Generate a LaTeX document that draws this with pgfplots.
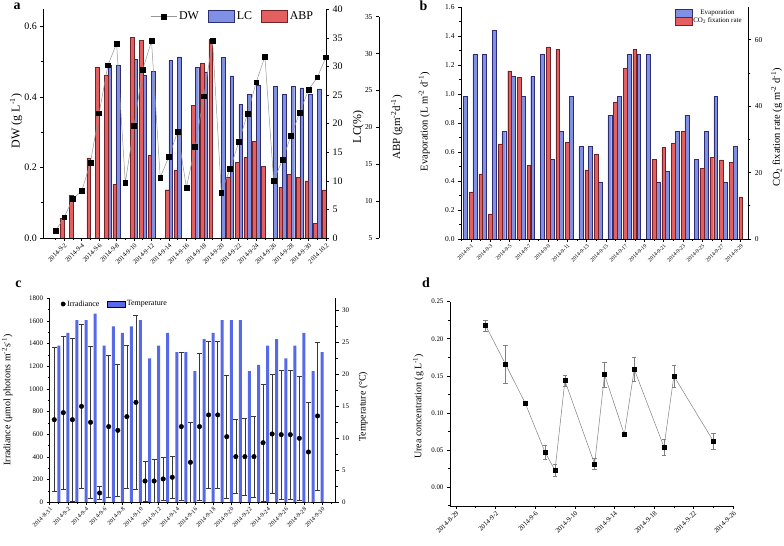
\documentclass[border=0pt]{standalone}
\usepackage{fontspec}
\setmainfont{Liberation Serif}
\usepackage{pgfplots}
\pgfplotsset{compat=1.18}

\definecolor{lcblue}{RGB}{128,144,228}
\definecolor{lcedge}{RGB}{45,45,115}
\definecolor{abpred}{RGB}{228,96,96}
\definecolor{abpedge}{RGB}{115,35,40}
\definecolor{tempblue}{RGB}{86,106,232}
\definecolor{errgray}{RGB}{55,55,55}
\definecolor{linegray}{RGB}{150,150,150}

\newcommand{\fs}[1]{\fontsize{#1}{#1}\selectfont}

\pgfplotsset{
  base/.style={
    scale only axis,
    anchor=south west,
    /pgf/number format/assume math mode=true,
    /pgf/number format/1000 sep={},
    scaled ticks=false,
    tick align=outside,
    axis line style={-, line width=0.7pt},
    every outer x axis line/.append style={-},
    every outer y axis line/.append style={-},
    major tick length=3bp,
    minor tick length=2bp,
    tick style={black, line width=0.6pt},
  },
  fix1/.style={/pgf/number format/.cd, fixed, fixed zerofill, precision=1},
  fix2/.style={/pgf/number format/.cd, fixed, fixed zerofill, precision=2},
  dwleg/.style={legend image code/.code={\draw[mark repeat=2,mark phase=2,##1] plot coordinates {(0bp,0bp) (13bp,0bp) (26bp,0bp)};}},
  boxlegA/.style={legend image code/.code={\draw[##1] (0bp,-6.2bp) rectangle (26bp,6.2bp);}},
  boxlegB/.style={legend image code/.code={\draw[##1] (0bp,-3.8bp) rectangle (16.7bp,3.8bp);}},
  boxlegC/.style={legend image code/.code={\draw[##1] (0bp,-3.1bp) rectangle (17.7bp,3.1bp);}},
  dotleg/.style={legend image code/.code={\fill[black] (2.5bp,0bp) circle (2.2bp);}},
}

\begin{document}
\begin{tikzpicture}
\path[use as bounding box] (0,0) rectangle (784bp,546bp);

% ================= Panel a =================
% LC bars (right axis)
\begin{axis}[base, at={(43.3bp,308bp)}, width=282.7bp, height=228.7bp,
  xmin=-0.4, xmax=32, ymin=0, ymax=40,
  axis x line=none, axis y line*=right,
  ytick={0,5,...,40},
  yticklabel style={font=\fs{10}},
]
\addplot[ybar, bar width=3.6bp, bar shift=1.8bp, fill=lcblue, draw=lcedge, line width=0.4pt] coordinates {
(7,30.28)(8,30.28)(10,31.27)(11,28.5)(12,29.2)(14,31.1)(15,31.7)(17,29.9)(18,29.05)(20,31.6)(21,28.35)(22,23.35)(23,25.1)(24,26.8)(26,26.55)(27,25.15)(28,26.55)(29,26.26)(30,25.15)(31,26.08)};
\end{axis}
% ABP bars (hidden axis, ABP scale)
\begin{axis}[base, at={(43.3bp,308bp)}, width=282.7bp, height=228.7bp,
  xmin=-0.4, xmax=32, ymin=5, ymax=36, hide axis]
\addplot[ybar, bar width=3.6bp, bar shift=-1.8bp, fill=abpred, draw=abpedge, line width=0.4pt] coordinates {
(2,7.70)(3,10.77)(5,15.87)(6,28.19)(7,27.10)(8,12.31)(10,32.19)(11,31.80)(12,16.16)(14,11.54)(15,14.20)(17,22.97)(18,28.63)(19,31.93)(21,13.29)(22,15.23)(23,15.92)(24,18.09)(25,14.68)(27,11.86)(28,13.66)(29,13.21)(30,12.75)(31,6.94)(32,11.51)};
\end{axis}
% ABP offset spine
\begin{axis}[base, at={(379bp,308bp)}, width=1bp, height=221.3bp,
  xmin=0, xmax=1, ymin=5, ymax=35,
  axis x line=none, axis y line*=left,
  ytick={5,10,...,35},
  yticklabel style={font=\fs{7.5}},
]
\end{axis}
% DW (left axis, x axis)
\begin{axis}[base, at={(43.3bp,308bp)}, width=282.7bp, height=228.7bp,
  xmin=-0.4, xmax=32, ymin=0, ymax=0.649,
  axis x line*=bottom, axis y line*=left,
  xtick={2,4,...,32}, minor xtick={1,3,...,31},
  xticklabels={2014-9-2,2014-9-4,2014-9-6,2014-9-8,2014-9-10,2014-9-12,2014-9-14,2014-9-16,2014-9-18,2014-9-20,2014-9-22,2014-9-24,2014-9-26,2014-9-28,2014-9-30,2014.10.2},
  xticklabel style={rotate=45, anchor=north east, font=\fs{6.5}, inner sep=1pt},
  ytick={0,0.2,0.4,0.6}, minor ytick={0.1,0.3,0.5},
  yticklabel style={font=\fs{10}, fix1},
  legend columns=3,
  legend style={at={(axis description cs:0.378,1.0)}, anchor=north west, draw=none, fill=none,
    font=\fs{12}, inner sep=0pt, nodes={inner sep=2.2bp},
    /tikz/every even column/.append style={column sep=7bp}},
]
\addlegendimage{dwleg, linegray, line width=0.5pt, mark=square*, mark size=2.4bp, mark options={black, fill=black}}
\addlegendentry{DW}
\addlegendimage{boxlegA, fill=lcblue, draw=lcedge, line width=0.4pt}
\addlegendentry{LC}
\addlegendimage{boxlegA, fill=abpred, draw=abpedge, line width=0.4pt}
\addlegendentry{ABP}
\addplot[linegray, line width=0.5pt, mark=square*, mark size=2.4bp, mark options={black, fill=black}, forget plot] coordinates {
(1,0.020)(2,0.059)(3,0.112)(4,0.133)(5,0.214)(6,0.354)(7,0.490)(8,0.552)(9,0.157)(10,0.318)(11,0.478)(12,0.559)(13,0.172)(14,0.231)(15,0.302)(16,0.143)(17,0.259)(18,0.402)(19,0.560)(20,0.129)(21,0.196)(22,0.272)(23,0.352)(24,0.442)(25,0.515)(26,0.163)(27,0.221)(28,0.291)(29,0.356)(30,0.421)(31,0.456)(32,0.513)};
\end{axis}

% ================= Panel b =================
\begin{axis}[base, at={(461bp,307bp)}, width=287.3bp, height=231.7bp,
  xmin=-0.04, xmax=29.78, ymin=0, ymax=1.6,
  axis x line*=bottom, axis y line*=left,
  xtick={1,3,...,29}, minor xtick={0,2,...,28},
  xticklabels={2014-9-1,2014-9-3,2014-9-5,2014-9-7,2014-9-9,2014-9-11,2014-9-13,2014-9-15,2014-9-17,2014-9-19,2014-9-21,2014-9-23,2014-9-25,2014-9-27,2014-9-29},
  xticklabel style={rotate=45, anchor=north east, font=\fs{5.5}, inner sep=1pt},
  ytick={0,0.2,0.4,0.6,0.8,1.0,1.2,1.4,1.6}, minor ytick={0.1,0.3,0.5,0.7,0.9,1.1,1.3,1.5},
  yticklabel style={font=\fs{7.5}, fix1},
]
\addplot[ybar, bar width=3.9bp, bar shift=0bp, fill=lcblue, draw=lcedge, line width=0.4pt] coordinates {
(0.4,0.983)(1.4,1.275)(2.4,1.275)(3.4,1.441)(4.4,0.741)(5.4,1.123)(6.4,0.983)(7.4,1.123)(8.4,1.275)(9.4,0.550)(10.4,0.741)(11.4,0.983)(12.4,0.642)(13.4,0.642)(14.4,0.394)(15.4,0.856)(16.4,0.983)(17.4,1.275)(18.4,1.275)(19.4,1.275)(20.4,0.394)(21.4,0.467)(22.4,0.741)(23.4,0.856)(24.4,0.550)(25.4,0.741)(26.4,0.983)(27.4,0.394)(28.4,0.642)};
\end{axis}
\begin{axis}[base, at={(461bp,307bp)}, width=287.3bp, height=231.7bp,
  xmin=-0.04, xmax=29.78, ymin=0, ymax=69.75,
  axis x line=none, axis y line*=right,
  ytick={0,20,40,60}, minor ytick={10,30,50},
  yticklabel style={font=\fs{7.5}},
  legend style={at={(axis description cs:0.745,0.993)}, anchor=north west, draw=none, fill=none,
    font=\fs{7}, inner sep=0pt, nodes={inner sep=1bp}, row sep=-0.5bp},
]
\addlegendimage{boxlegB, fill=lcblue, draw=lcedge, line width=0.4pt}
\addlegendentry{Evaporation}
\addlegendimage{boxlegB, fill=abpred, draw=abpedge, line width=0.4pt}
\addlegendentry{CO\textsubscript{2} fixation rate}
\addplot[ybar, bar width=3.7bp, bar shift=0bp, fill=abpred, draw=abpedge, line width=0.4pt, forget plot] coordinates {
(1,14.15)(2,19.57)(3,7.53)(4,28.6)(5,50.6)(6,48.7)(7,22.08)(9,57.8)(10,57.0)(11,29.1)(13,20.77)(14,25.6)(16,41.25)(17,51.4)(18,57.0)(20,24.0)(21,27.5)(22,28.7)(23,32.5)(25,21.3)(26,24.6)(27,23.8)(28,23.0)(29,12.65)};
\end{axis}

% ================= Panel c =================
\begin{axis}[base, at={(49.7bp,43.7bp)}, width=286bp, height=204bp,
  xmin=0, xmax=31.5, ymin=0, ymax=31.9,
  axis x line=none, axis y line*=right,
  ytick={0,5,...,30}, minor ytick={2.5,7.5,12.5,17.5,22.5,27.5},
  yticklabel style={font=\fs{7}},
]
\addplot[ybar, bar width=3bp, bar shift=0bp, fill=tempblue, draw=none] coordinates {
(1,24.5)(2,26.5)(3,28.5)(4,28.5)(5,29.5)(6,24.5)(7,27.5)(8,26.5)(9,27.5)(10,28.5)(11,22.5)(12,24.5)(13,26.5)(14,23.5)(15,23.5)(16,20.5)(17,25.5)(18,26.5)(19,28.5)(20,28.5)(21,28.5)(22,20.5)(23,21.5)(24,24.5)(25,25.5)(26,22.5)(27,24.5)(28,26.5)(29,20.5)(30,23.5)};
\end{axis}
\begin{axis}[base, at={(49.7bp,43.7bp)}, width=286bp, height=204bp,
  xmin=0, xmax=31.5, ymin=0, ymax=1800,
  axis x line*=bottom, axis y line*=left,
  xtick={0,2,...,30}, minor xtick={1,3,...,31},
  xticklabels={2014-8-31,2014-9-2,2014-9-4,2014-9-6,2014-9-8,2014-9-10,2014-9-12,2014-9-14,2014-9-16,2014-9-18,2014-9-20,2014-9-22,2014-9-24,2014-9-26,2014-9-28,2014-9-30},
  xticklabel style={rotate=45, anchor=north east, font=\fs{6}, inner sep=1pt},
  ytick={0,200,...,1800}, minor ytick={100,300,...,1700},
  yticklabel style={font=\fs{7}},
  legend columns=2,
  legend style={at={(axis description cs:0.038,0.998)}, anchor=north west, draw=none, fill=none,
    font=\fs{8}, inner sep=0pt, nodes={inner sep=1.6bp},
    /tikz/every even column/.append style={column sep=6bp}},
]
\addlegendimage{dotleg}
\addlegendentry{Irradiance}
\addlegendimage{boxlegC, fill=tempblue, draw=none}
\addlegendentry{Temperature}
\addplot[only marks, mark=*, mark size=2.3bp, black, forget plot,
  error bars/.cd, y dir=both, y explicit,
  error bar style={errgray, line width=0.6pt},
  error mark options={rotate=90, errgray, mark size=2.5bp, line width=0.6pt}]
  table[x=x, y=y, y error=e] {
x y e
0.5 729 635
1.5 791 678
2.5 729 717
3.5 847 720
4.5 706 670
5.5 82 56
6.5 668 628
7.5 635 583
8.5 756 633
9.5 882 765
10.5 188 178
11.5 188 190
12.5 206 190
13.5 221 188
14.5 668 652
15.5 353 352
16.5 668 651
17.5 771 647
18.5 771 647
19.5 579 543
20.5 403 325
21.5 403 338
22.5 403 356
23.5 526 519
24.5 603 525
25.5 597 570
26.5 597 570
27.5 565 547
28.5 444 441
29.5 762 654
};
\end{axis}

% ================= Panel d =================
\begin{axis}[base, at={(450bp,40bp)}, width=283.3bp, height=204.3bp,
  xmin=-0.6, xmax=28, ymin=-0.0256, ymax=0.25,
  axis x line*=bottom, axis y line*=left,
  xtick={0,4,...,28}, minor xtick={2,6,...,26},
  xticklabels={2014-8-29,2014-9-2,2014-9-6,2014-9-10,2014-9-14,2014-9-18,2014-9-22,2014-9-26},
  xticklabel style={rotate=45, anchor=north east, font=\fs{6.8}, inner sep=1pt},
  ytick={0,0.05,0.1,0.15,0.2,0.25}, minor ytick={-0.025,0.025,0.075,0.125,0.175,0.225},
  yticklabel style={font=\fs{7}, fix2},
]
\addplot[color=gray, line width=0.5pt, mark=square*, mark size=2bp, mark options={black, fill=black},
  error bars/.cd, y dir=both, y explicit,
  error bar style={gray, line width=0.5pt},
  error mark options={rotate=90, gray, mark size=2.2bp, line width=0.5pt}]
  table[x=x, y=y, y error=e] {
x y e
3 0.2176 0.0072
5 0.1659 0.026
7 0.1129 0.003
9 0.0468 0.009
10 0.0225 0.008
11 0.1434 0.008
14 0.031 0.0075
15 0.1515 0.017
17 0.071 0.002
18 0.1587 0.016
21 0.054 0.0105
22 0.1497 0.015
26 0.0616 0.0103
};
\end{axis}

% ================= labels =================
\node[font=\bfseries\fs{14}] at (17bp,539.5bp) {a};
\node[font=\bfseries\fs{14}] at (423.5bp,540bp) {b};
\node[font=\bfseries\fs{14}] at (18.5bp,262bp) {c};
\node[font=\bfseries\fs{14}] at (426bp,263bp) {d};

\node[rotate=90, font=\fs{12}] at (16bp,425bp) {DW (g L\textsuperscript{-1})};
\node[rotate=90, font=\fs{12}] at (358.3bp,419.3bp) {LC(\%)};
\node[rotate=90, font=\fs{11}] at (396.7bp,418.5bp) {ABP (gm\textsuperscript{-2}d\textsuperscript{-1})};
\node[rotate=90, font=\fs{10.5}] at (424.3bp,424.3bp) {Evaporation (L m\textsuperscript{-2} d\textsuperscript{-1})};
\node[rotate=90, font=\fs{10.5}] at (776.7bp,418.5bp) {CO\textsubscript{2} fixation rate (g m\textsuperscript{-2} d\textsuperscript{-1})};
\node[rotate=90, font=\fs{10}] at (7.3bp,146bp) {Irradiance (μmol photons m\textsuperscript{-2}s\textsuperscript{-1})};
\node[rotate=90, font=\fs{10}] at (363.3bp,139.3bp) {Temperature (°C)};
\node[rotate=90, font=\fs{10}] at (418.3bp,139.7bp) {Urea concentration (g L\textsuperscript{-1})};
\end{tikzpicture}
\end{document}
